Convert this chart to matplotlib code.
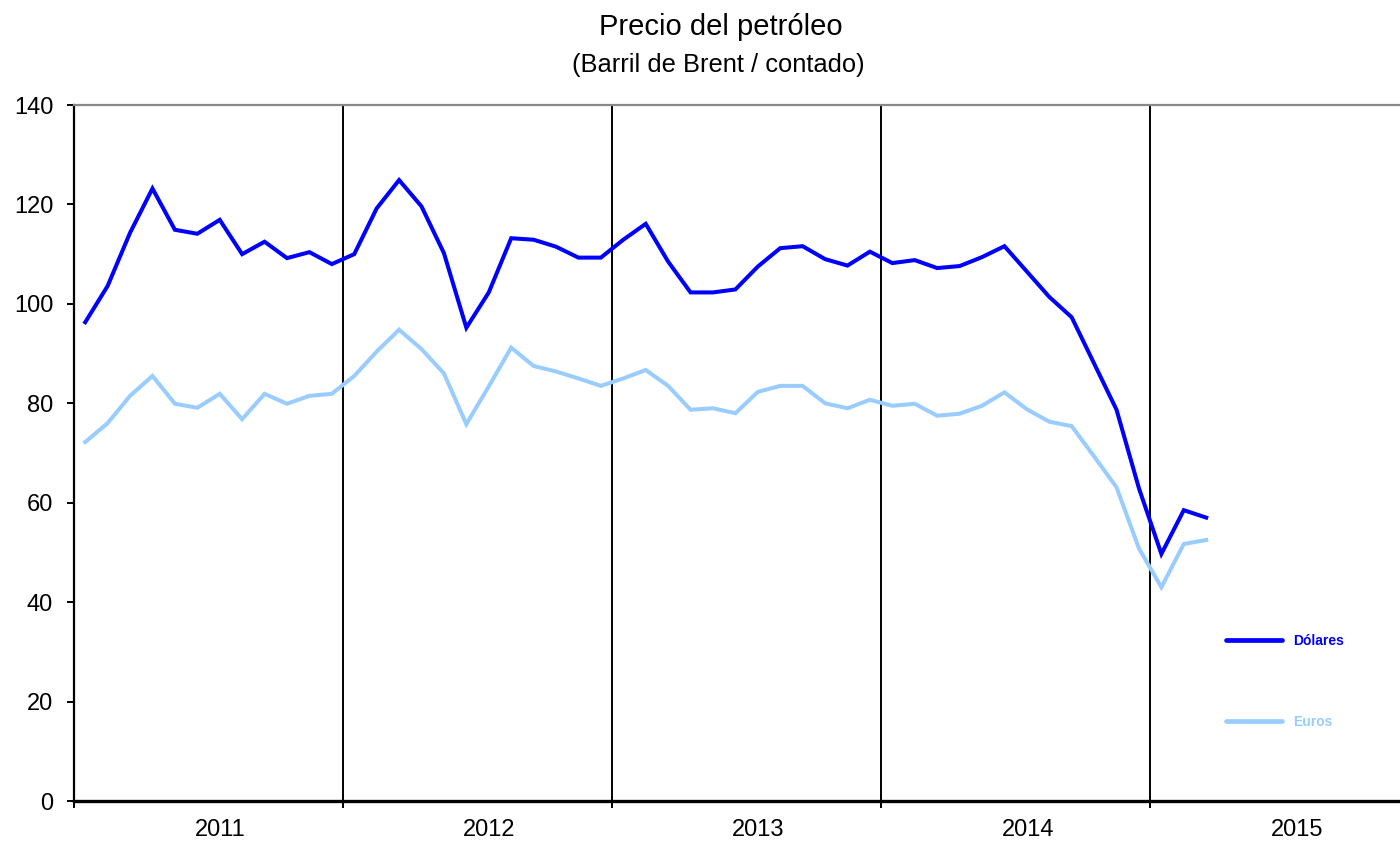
import numpy as np
import matplotlib
matplotlib.use("Agg")
import matplotlib.pyplot as plt
from matplotlib.lines import Line2D
from matplotlib.transforms import ScaledTranslation

plt.rcParams["font.family"] = ["Liberation Sans", "DejaVu Sans"]

# =========================
# datos (mensuales, ene-2011 a mar-2015)
# =========================

years = ["2011", "2012", "2013", "2014", "2015"]

dolares = [
    96.3, 103.6, 114.3, 123.2, 114.9, 114.1, 116.9, 110.0, 112.5, 109.2, 110.4, 108.0,
    110.0, 119.2, 124.9, 119.6, 110.2, 95.2, 102.3, 113.2, 112.9, 111.5, 109.3, 109.3,
    112.9, 116.1, 108.5, 102.3, 102.3, 102.9, 107.5, 111.2, 111.6, 109.0, 107.7, 110.5,
    108.2, 108.8, 107.2, 107.6, 109.4, 111.6, 106.5, 101.4, 97.3, 88.0, 78.7, 62.9,
    49.7, 58.5, 57.0,
]

euros = [
    72.2, 76.0, 81.5, 85.5, 79.9, 79.1, 81.9, 76.8, 81.9, 79.9, 81.5, 81.9,
    85.5, 90.4, 94.8, 90.9, 86.0, 75.8, 83.4, 91.2, 87.5, 86.4, 85.0, 83.5,
    85.0, 86.7, 83.5, 78.7, 79.0, 78.0, 82.3, 83.5, 83.5, 80.0, 79.0, 80.7,
    79.5, 79.9, 77.5, 77.9, 79.5, 82.2, 78.8, 76.3, 75.4, 69.3, 63.1, 50.8,
    43.0, 51.7, 52.5,
]

COLOR_USD = "#0000FF"
COLOR_EUR = "#99CCFF"


def main():
    fig = plt.figure(figsize=(14, 8.44), dpi=100)
    ax = fig.add_axes([74 / 1400, 1 - 801 / 844, 1 - 74 / 1400, (801 - 105) / 844])

    x = np.arange(len(dolares)) + 0.5
    ax.plot(x, dolares, color=COLOR_USD, lw=2.9, solid_joinstyle="miter", zorder=3)
    ax.plot(x, euros, color=COLOR_EUR, lw=2.9, solid_joinstyle="miter", zorder=3)

    # separadores de año
    for b in range(12, 12 * len(years), 12):
        ax.axvline(b, color="black", lw=1.4, zorder=1)

    ax.set_xlim(0, 1326 / 22.42)
    ax.set_ylim(0, 140)
    ax.set_yticks(range(0, 141, 20))

    ax.set_xticks(range(0, 12 * len(years), 12))
    ax.set_xticklabels([])
    ax.set_xticks([12 * i + 6 for i in range(len(years))], minor=True)
    ax.set_xticklabels(years, minor=True)

    ax.tick_params(axis="x", which="major", length=5, width=1.4, direction="out")
    ax.tick_params(axis="x", which="minor", length=0, pad=13, labelsize=17)
    ax.tick_params(axis="y", length=5, width=1.4, direction="out", pad=10, labelsize=17)

    # las etiquetas de año van algo desplazadas a la derecha, como en el original
    shift = ScaledTranslation(12 / 100, 0, fig.dpi_scale_trans)
    for lab in ax.get_xticklabels(minor=True):
        lab.set_transform(lab.get_transform() + shift)

    ax.spines["right"].set_visible(False)
    ax.spines["top"].set_color("#888888")
    ax.spines["top"].set_linewidth(1.6)
    ax.spines["left"].set_linewidth(1.6)
    ax.spines["bottom"].set_linewidth(2.4)

    fig.text(0.515, 1 - 27 / 844, "Precio del petróleo", ha="center", va="center", fontsize=21)
    fig.text(0.513, 1 - 65 / 844, "(Barril de Brent / contado)", ha="center", va="center", fontsize=18.4)

    handles = [
        Line2D([], [], color=COLOR_USD, lw=3.4, solid_capstyle="round"),
        Line2D([], [], color=COLOR_EUR, lw=3.4, solid_capstyle="round"),
    ]
    ax.legend(
        handles, ["Dólares", "Euros"],
        loc="upper left", bbox_to_anchor=(1226 / 1400, 1 - 634 / 844),
        bbox_transform=fig.transFigure,
        frameon=False, borderpad=0, borderaxespad=0,
        handlelength=4.0, handletextpad=0.85, labelspacing=4.8,
        prop={"size": 10, "weight": "bold"},
        labelcolor=[COLOR_USD, COLOR_EUR],
    )

    fig.savefig("out.png", dpi=100)


if __name__ == "__main__":
    main()
